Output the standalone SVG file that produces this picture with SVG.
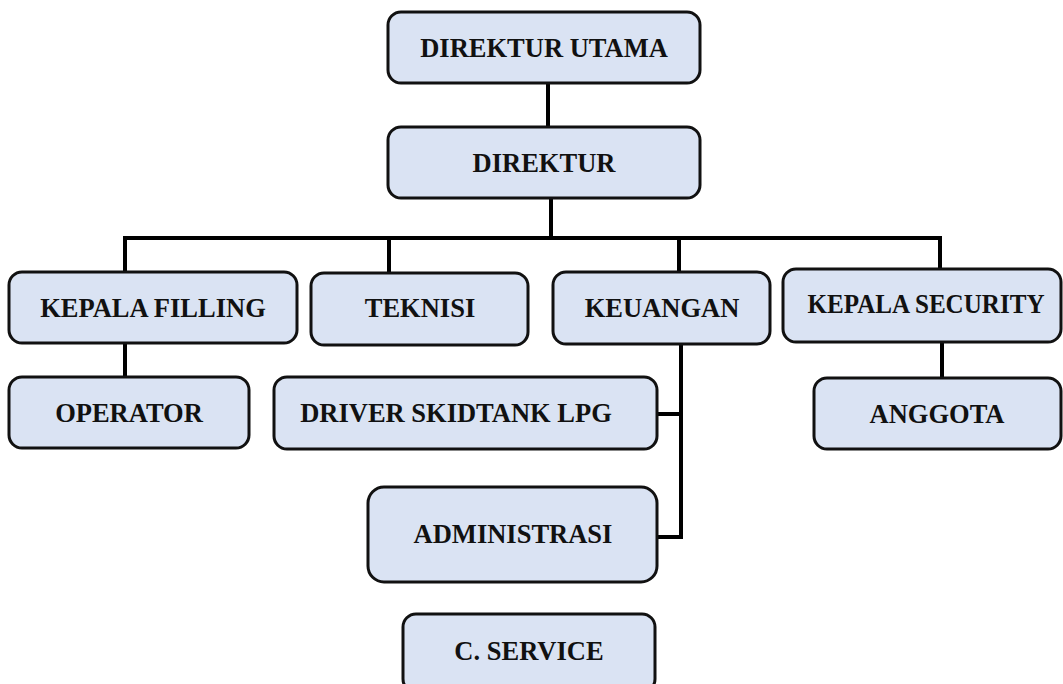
<svg xmlns="http://www.w3.org/2000/svg" width="1063" height="684" viewBox="0 0 1063 684">
<style>
.box{fill:#DAE3F3;stroke:#111;stroke-width:3}
.lbl{font-family:"Liberation Serif","Times New Roman",serif;font-weight:bold;font-size:26.5px;fill:#111;text-anchor:middle}
.con{fill:none;stroke:#000;stroke-width:4;stroke-linecap:square}
</style>
<rect width="1063" height="684" fill="#fff"/>
<g id="connectors">
<path class="con" d="M548 83V127"/>
<path class="con" d="M551 198V238"/>
<path class="con" d="M125 272V238H940V269"/>
<path class="con" d="M389 238V273"/>
<path class="con" d="M679 238V272"/>
<path class="con" d="M125 343V377"/>
<path class="con" d="M942 342V378"/>
<path class="con" d="M681 344V537H658"/>
<path class="con" d="M658 414H681"/>
</g>
<g id="direktur-utama"><rect class="box" x="388" y="12" width="312" height="71" rx="13"/><text class="lbl" x="544" y="57">DIREKTUR UTAMA</text></g>
<g id="direktur"><rect class="box" x="388" y="127" width="312" height="71" rx="13"/><text class="lbl" x="544" y="172">DIREKTUR</text></g>
<g id="kepala-filling"><rect class="box" x="9" y="272" width="288" height="71" rx="13"/><text class="lbl" x="153" y="317">KEPALA FILLING</text></g>
<g id="teknisi"><rect class="box" x="311" y="273" width="217" height="72" rx="13"/><text class="lbl" x="420" y="317">TEKNISI</text></g>
<g id="keuangan"><rect class="box" x="553" y="272" width="217" height="72" rx="13"/><text class="lbl" x="662" y="317">KEUANGAN</text></g>
<g id="kepala-security"><rect class="box" x="783" y="269" width="278" height="73" rx="13"/><text class="lbl" x="926" y="313" textLength="237" lengthAdjust="spacingAndGlyphs">KEPALA SECURITY</text></g>
<g id="operator"><rect class="box" x="9" y="377" width="240" height="71" rx="13"/><text class="lbl" x="129" y="422">OPERATOR</text></g>
<g id="driver"><rect class="box" x="274" y="377" width="383" height="72" rx="13"/><text class="lbl" x="456" y="422">DRIVER SKIDTANK LPG</text></g>
<g id="anggota"><rect class="box" x="814" y="378" width="247" height="71" rx="13"/><text class="lbl" x="937" y="423">ANGGOTA</text></g>
<g id="administrasi"><rect class="box" x="368" y="487" width="289" height="95" rx="16"/><text class="lbl" x="513" y="543">ADMINISTRASI</text></g>
<g id="c-service"><rect class="box" x="403" y="614" width="252" height="78" rx="13"/><text class="lbl" x="529" y="660">C. SERVICE</text></g>
</svg>
